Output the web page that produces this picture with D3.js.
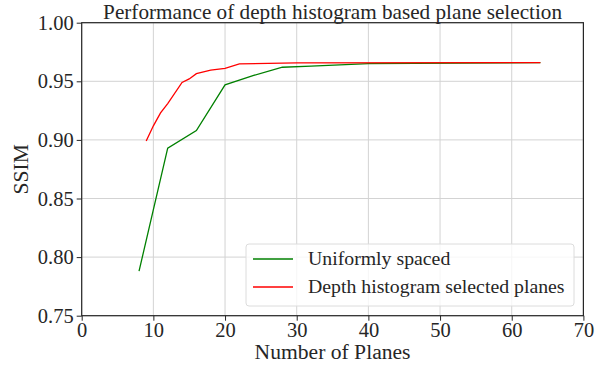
<!DOCTYPE html>
<html>
<head>
<meta charset="utf-8">
<script src="https://cdn.jsdelivr.net/npm/d3@7"></script>
<style>
  body { margin: 0; background: #fff; }
  text { font-family: "Liberation Serif", "DejaVu Serif", serif; fill: #262626; }
</style>
</head>
<body>
<div id="graphe"></div>
<script>
// données
var planesUniforme = [8, 12, 16, 20, 24, 28, 32, 40, 64];
var ssimUniforme   = [0.788, 0.893, 0.908, 0.947, 0.955, 0.962, 0.963, 0.965, 0.966];
var planesHisto = [9, 10, 11, 12, 14, 15, 16, 18, 20, 22, 30, 64];
var ssimHisto   = [0.899, 0.912, 0.923, 0.931, 0.949, 0.952, 0.9565, 0.9595, 0.961, 0.9648, 0.9657, 0.966];
var xTicks = [0, 10, 20, 30, 40, 50, 60, 70];
var yTicks = [0.75, 0.80, 0.85, 0.90, 0.95, 1.00];
var seriesNoms = ["Uniformly spaced", "Depth histogram selected planes"];
var seriesCouleurs = ["green", "red"];

var largeur = 602, hauteur = 366;
var marge = {haut: 22.7, droite: 18.6, bas: 50.3, gauche: 81.7};
var w = largeur - marge.gauche - marge.droite,
    h = hauteur - marge.haut - marge.bas;

var svg = d3.select("#graphe").append("svg")
  .attr("width", largeur)
  .attr("height", hauteur);
var g = svg.append("g").attr("transform", "translate(" + marge.gauche + "," + marge.haut + ")");

var x = d3.scaleLinear().domain([0, 70]).range([0, w]);
var y = d3.scaleLinear().domain([0.75, 1.0]).range([h, 0]);

// grille
g.selectAll(".gx").data(xTicks).enter().append("line")
  .attr("x1", d => x(d)).attr("x2", d => x(d))
  .attr("y1", 0).attr("y2", h)
  .attr("stroke", "#d3d3d3").attr("stroke-width", 1);
g.selectAll(".gy").data(yTicks).enter().append("line")
  .attr("y1", d => y(d)).attr("y2", d => y(d))
  .attr("x1", 0).attr("x2", w)
  .attr("stroke", "#d3d3d3").attr("stroke-width", 1);

// courbes
var ligne = d3.line().x(d => x(d[0])).y(d => y(d[1]));
var series = [d3.zip(planesUniforme, ssimUniforme), d3.zip(planesHisto, ssimHisto)];
series.forEach(function(s, i) {
  g.append("path").datum(s)
    .attr("d", ligne)
    .attr("fill", "none")
    .attr("stroke", seriesCouleurs[i])
    .attr("stroke-width", 1.3);
});

// axes
var axeX = g.append("g").attr("transform", "translate(0," + h + ")")
  .call(d3.axisBottom(x).tickValues(xTicks).tickFormat(d3.format("d")).tickSize(5).tickPadding(2));
var axeY = g.append("g")
  .call(d3.axisLeft(y).tickValues(yTicks).tickFormat(d3.format(".2f")).tickSize(5).tickPadding(3));
[axeX, axeY].forEach(function(a) {
  a.selectAll("text").attr("font-size", "20.5px").attr("font-family", null).attr("fill", "#262626");
  a.selectAll("line").attr("stroke", "#262626");
  a.select(".domain").remove();
});

// cadre
g.append("rect").attr("width", w).attr("height", h)
  .attr("fill", "none").attr("stroke", "#262626").attr("stroke-width", 1.2);

// titres
svg.append("text")
  .attr("x", marge.gauche + w / 2).attr("y", 18.8)
  .attr("text-anchor", "middle").attr("font-size", "21.2px")
  .text("Performance of depth histogram based plane selection");
svg.append("text")
  .attr("x", marge.gauche + w / 2).attr("y", 359)
  .attr("text-anchor", "middle").attr("font-size", "21.6px")
  .text("Number of Planes");
svg.append("text")
  .attr("transform", "translate(28," + (marge.haut + h / 2) + ") rotate(-90)")
  .attr("text-anchor", "middle").attr("font-size", "21.6px")
  .text("SSIM");

// légende
var leg = svg.append("g").attr("transform", "translate(246,244)");
leg.append("rect").attr("width", 328).attr("height", 62).attr("rx", 3)
  .attr("fill", "white").attr("fill-opacity", 0.8)
  .attr("stroke", "#dcdcdc").attr("stroke-width", 1);
seriesNoms.forEach(function(nom, i) {
  var yy = 15 + i * 28;
  leg.append("line").attr("x1", 7).attr("x2", 47).attr("y1", yy).attr("y2", yy)
    .attr("stroke", seriesCouleurs[i]).attr("stroke-width", 1.3);
  leg.append("text").attr("x", 62).attr("y", yy + 6)
    .attr("font-size", "19.8px").text(nom);
});
</script>
</body>
</html>
